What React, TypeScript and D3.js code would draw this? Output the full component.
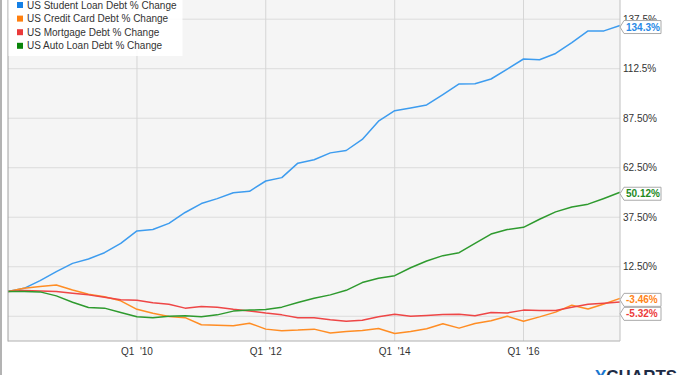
import { useEffect, useRef } from "react";
import * as d3 from "d3";

// quarterly % change since Q1 2008
const seriesNames = [
  "US Student Loan Debt % Change",
  "US Credit Card Debt % Change",
  "US Mortgage Debt % Change",
  "US Auto Loan Debt % Change",
];
const studentLoan = [0, 1.6, 5.5, 10.0, 14.2, 16.4, 19.6, 24.3, 30.6, 31.3, 34.4, 39.9, 44.4, 46.9, 49.9, 50.6, 55.8, 57.5, 64.8, 66.5, 70.0, 71.2, 76.8, 86.0, 91.3, 92.7, 94.2, 99.4, 104.8, 104.9, 107.3, 112.3, 117.4, 117.0, 120.2, 125.7, 131.6, 131.6, 134.3];
const creditCard = [0, 1.6, 2.5, 3.3, 0.8, -1.4, -2.6, -4.7, -9.0, -11.0, -12.6, -13.2, -16.8, -17.0, -17.3, -16.0, -19.0, -19.8, -19.5, -19.0, -21.0, -20.2, -19.7, -18.7, -21.2, -20.2, -18.8, -16.3, -18.5, -16.2, -14.8, -12.5, -15.0, -12.8, -10.4, -6.9, -8.8, -6.3, -3.46];
const mortgage = [0, 0.5, 0.3, 0, -0.9, -1.7, -2.9, -4.2, -4.4, -5.7, -6.4, -8.4, -7.6, -7.9, -9.0, -9.8, -10.9, -11.8, -13.2, -13.2, -14.3, -15.0, -14.5, -12.7, -11.5, -12.5, -12.1, -11.6, -11.5, -12.3, -10.6, -10.8, -9.4, -9.6, -9.6, -7.9, -6.4, -5.9, -5.32];
const autoLoan = [0, 0, -0.2, -2.2, -5.4, -8.1, -8.4, -10.6, -12.8, -13.2, -12.5, -12.3, -12.8, -11.8, -9.9, -9.4, -9.1, -7.9, -5.6, -3.4, -1.7, 0.6, 4.5, 6.7, 8.0, 12.0, 15.4, 18.1, 19.6, 24.3, 29.0, 31.3, 32.4, 36.5, 40.2, 42.7, 44.1, 47.0, 50.12];
const endLabels = ["134.3%", "-3.46%", "-5.32%", "50.12%"];

const yTicks = [137.5, 112.5, 87.5, 62.5, 37.5, 12.5];
const yTickLabels = ["137.5%", "112.5%", "87.50%", "62.50%", "37.50%", "12.50%"];
const yGrid = [137.5, 112.5, 87.5, 62.5, 37.5, 12.5, -12.5];
const xTickYears = [2010, 2012, 2014, 2016];
const xTickLabels = ["Q1  '10", "Q1  '12", "Q1  '14", "Q1  '16"];

const lineColors = ["#3d9cef", "#ff8d24", "#ee4646", "#2e9a2e"];
const legendColors = ["#1480e6", "#ff7f0e", "#ea3a3a", "#0a850a"];
const labelColors = ["#2a8ae6", "#ff8418", "#ec3b3b", "#1e8a1e"];

const FONT = "'Liberation Sans', Arial, sans-serif";

export default function App() {
  const ref = useRef<SVGSVGElement>(null);

  useEffect(() => {
    const svg = d3.select(ref.current);
    svg.selectAll("*").remove();

    const width = 685, height = 375;
    const left = 8, right = 620, bottom = 341;

    const quarters = d3.timeMonth.every(3)!.range(new Date(2008, 0, 1), new Date(2017, 9, 1));
    const x = d3.scaleTime().domain([quarters[0], quarters[quarters.length - 1]]).range([left, right]);
    const y = d3.scaleLinear().domain([0, 137.5]).range([291.5, 19.2]);

    svg.append("rect").attr("width", width).attr("height", height).attr("fill", "#fff");
    svg.append("line").attr("x1", 1).attr("x2", 1).attr("y1", 0).attr("y2", height)
      .attr("stroke", "#9a9a9a").attr("stroke-width", 1.5);

    svg.append("rect").attr("x", left).attr("y", 0)
      .attr("width", right - left).attr("height", bottom).attr("fill", "#f5f5f5");

    const g = svg.append("g");
    g.selectAll(".hgrid").data(yGrid).enter().append("line")
      .attr("x1", left).attr("x2", right)
      .attr("y1", d => y(d)).attr("y2", d => y(d))
      .attr("stroke", "#dcdcdc").attr("stroke-width", 1);

    const xDates = xTickYears.map(yr => new Date(yr, 0, 1));
    g.selectAll(".vgrid").data(xDates).enter().append("line")
      .attr("x1", d => x(d)).attr("x2", d => x(d))
      .attr("y1", 0).attr("y2", bottom)
      .attr("stroke", "#d6d6d6").attr("stroke-width", 1);

    g.selectAll(".xlab").data(xDates).enter().append("text")
      .attr("x", d => x(d)).attr("y", 355)
      .attr("text-anchor", "middle")
      .style("white-space", "pre")
      .attr("font-family", FONT).attr("font-size", 10).attr("fill", "#333")
      .text((d, i) => xTickLabels[i]);

    const allSeries = [studentLoan, creditCard, mortgage, autoLoan];
    const line = d3.line<number>().x((d, i) => x(quarters[i])).y(d => y(d));
    allSeries.forEach((s, i) => {
      g.append("path").datum(s)
        .attr("d", line)
        .attr("fill", "none")
        .attr("stroke", lineColors[i])
        .attr("stroke-width", 1.5)
        .attr("stroke-linejoin", "round");
    });

    // frame
    g.append("line").attr("x1", left).attr("x2", left).attr("y1", 0).attr("y2", bottom + 0.5)
      .attr("stroke", "#a0a0a0");
    g.append("line").attr("x1", left).attr("x2", right).attr("y1", bottom).attr("y2", bottom)
      .attr("stroke", "#b0b0b0");
    g.append("line").attr("x1", right).attr("x2", right).attr("y1", 0).attr("y2", bottom)
      .attr("stroke", "#c0c0c0");

    // legend
    const legend = svg.append("g");
    legend.append("rect").attr("x", left + 0.5).attr("y", 0).attr("width", 174).attr("height", 56)
      .attr("fill", "#fff").attr("opacity", 0.92);
    seriesNames.forEach((name, i) => {
      const cy = 5 + i * 13.6;
      legend.append("rect").attr("x", 17).attr("y", cy - 3).attr("width", 6).attr("height", 6)
        .attr("fill", legendColors[i]);
      legend.append("text").attr("x", 27).attr("y", cy + 3.5)
        .attr("font-family", FONT).attr("font-size", 10).attr("fill", "#333")
        .text(name);
    });

    // y tick labels
    svg.selectAll(".ylab").data(yTicks).enter().append("text")
      .attr("x", 623).attr("y", d => y(d) + 3.5)
      .attr("font-family", FONT).attr("font-size", 10).attr("fill", "#333")
      .text((d, i) => yTickLabels[i]);

    // end-value flags
    const flags = allSeries.map((s, i) => ({ i, cy: y(s[s.length - 1]) + 1.5 }))
      .sort((a, b) => a.cy - b.cy);
    for (let k = 1; k < flags.length; k++) {
      if (flags[k].cy < flags[k - 1].cy + 14) flags[k].cy = flags[k - 1].cy + 14;
    }
    flags.forEach(f => {
      const h = 6.5, bx = 624, bw = 37;
      const path = `M${right},${f.cy} L${bx},${f.cy - h} L${bx + bw},${f.cy - h} L${bx + bw},${f.cy + h} L${bx},${f.cy + h} Z`;
      svg.append("path").attr("d", path).attr("fill", "#fff").attr("stroke", "#aaa").attr("stroke-width", 1);
      svg.append("text").attr("x", 626).attr("y", f.cy + 3.5)
        .attr("font-family", FONT).attr("font-size", 10).attr("font-weight", "bold")
        .attr("fill", labelColors[f.i])
        .text(endLabels[f.i]);
    });

    // logo, cut at the bottom edge
    const logo = svg.append("text").attr("x", 595).attr("y", 382)
      .attr("font-family", FONT).attr("font-size", 17).attr("font-weight", "bold");
    logo.append("tspan").attr("fill", "#1b78d0").text("Y");
    logo.append("tspan").attr("fill", "#1d2b45").text("CHARTS");
  }, []);

  return (
    <svg ref={ref} width={685} height={375}
      style={{ position: "absolute", left: 0, top: 0, display: "block" }} />
  );
}
